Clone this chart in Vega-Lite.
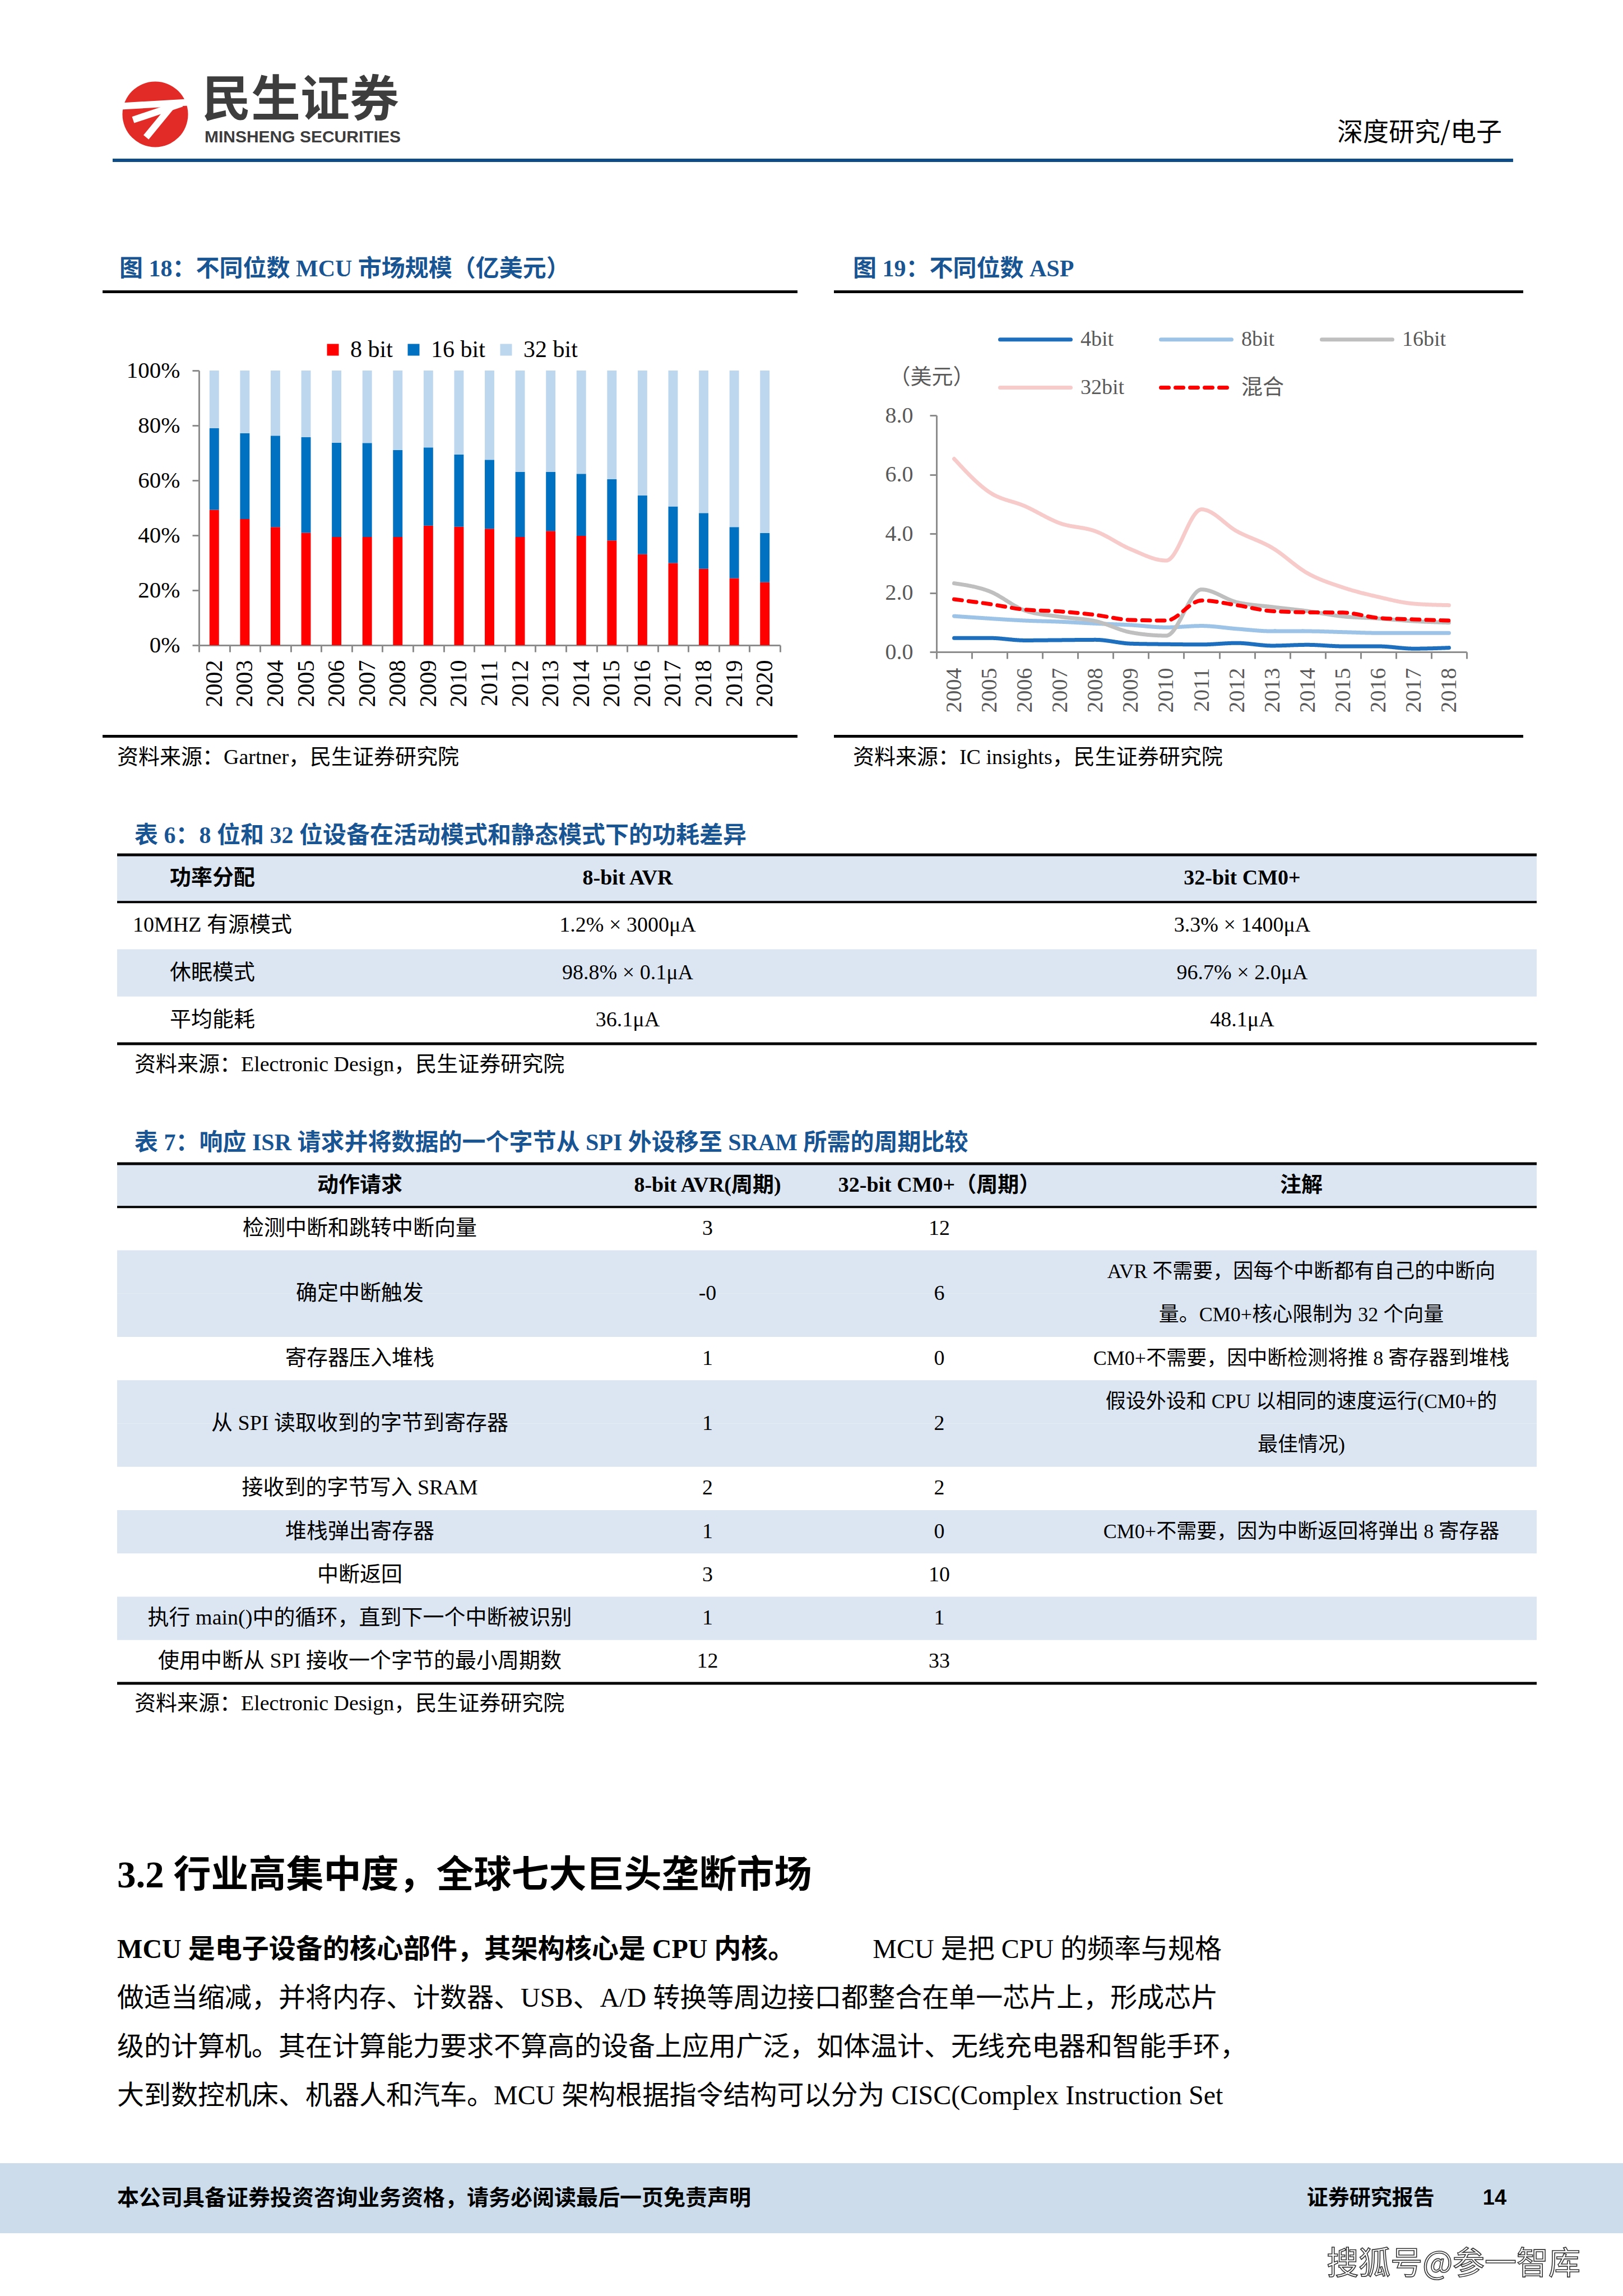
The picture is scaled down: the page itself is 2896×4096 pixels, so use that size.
{
"$schema": "https://vega.github.io/schema/vega-lite/v6.json",
"padding": 0,
"background": "#ffffff",
"autosize": {"type": "pad"},
"config": {
  "view": {"stroke": null},
  "concat": {"spacing": 0},
  "font": "Liberation Serif, Noto Sans CJK SC",
  "text": {"font": "Liberation Serif, Noto Sans CJK SC", "fontSize": 38, "color": "#000000"},
  "axis": {"grid": false, "labelFont": "Liberation Serif, Noto Sans CJK SC", "titleFont": "Liberation Serif, Noto Sans CJK SC"},
  "legend": {"labelFont": "Liberation Serif, Noto Sans CJK SC", "padding": 0}
},
"datasets": {
  "mcu": [
    {"year": "2002", "bits": 8, "share": 49.3}, {"year": "2002", "bits": 16, "share": 29.7}, {"year": "2002", "bits": 32, "share": 21.0},
    {"year": "2003", "bits": 8, "share": 45.9}, {"year": "2003", "bits": 16, "share": 31.3}, {"year": "2003", "bits": 32, "share": 22.8},
    {"year": "2004", "bits": 8, "share": 43.0}, {"year": "2004", "bits": 16, "share": 33.3}, {"year": "2004", "bits": 32, "share": 23.7},
    {"year": "2005", "bits": 8, "share": 40.9}, {"year": "2005", "bits": 16, "share": 34.8}, {"year": "2005", "bits": 32, "share": 24.3},
    {"year": "2006", "bits": 8, "share": 39.4}, {"year": "2006", "bits": 16, "share": 34.3}, {"year": "2006", "bits": 32, "share": 26.3},
    {"year": "2007", "bits": 8, "share": 39.4}, {"year": "2007", "bits": 16, "share": 34.2}, {"year": "2007", "bits": 32, "share": 26.4},
    {"year": "2008", "bits": 8, "share": 39.4}, {"year": "2008", "bits": 16, "share": 31.6}, {"year": "2008", "bits": 32, "share": 29.0},
    {"year": "2009", "bits": 8, "share": 43.5}, {"year": "2009", "bits": 16, "share": 28.5}, {"year": "2009", "bits": 32, "share": 28.0},
    {"year": "2010", "bits": 8, "share": 43.1}, {"year": "2010", "bits": 16, "share": 26.3}, {"year": "2010", "bits": 32, "share": 30.6},
    {"year": "2011", "bits": 8, "share": 42.4}, {"year": "2011", "bits": 16, "share": 25.1}, {"year": "2011", "bits": 32, "share": 32.5},
    {"year": "2012", "bits": 8, "share": 39.4}, {"year": "2012", "bits": 16, "share": 23.7}, {"year": "2012", "bits": 32, "share": 36.9},
    {"year": "2013", "bits": 8, "share": 41.6}, {"year": "2013", "bits": 16, "share": 21.5}, {"year": "2013", "bits": 32, "share": 36.9},
    {"year": "2014", "bits": 8, "share": 39.8}, {"year": "2014", "bits": 16, "share": 22.6}, {"year": "2014", "bits": 32, "share": 37.6},
    {"year": "2015", "bits": 8, "share": 38.1}, {"year": "2015", "bits": 16, "share": 22.3}, {"year": "2015", "bits": 32, "share": 39.6},
    {"year": "2016", "bits": 8, "share": 33.1}, {"year": "2016", "bits": 16, "share": 21.4}, {"year": "2016", "bits": 32, "share": 45.5},
    {"year": "2017", "bits": 8, "share": 29.9}, {"year": "2017", "bits": 16, "share": 20.6}, {"year": "2017", "bits": 32, "share": 49.5},
    {"year": "2018", "bits": 8, "share": 27.8}, {"year": "2018", "bits": 16, "share": 20.3}, {"year": "2018", "bits": 32, "share": 51.9},
    {"year": "2019", "bits": 8, "share": 24.4}, {"year": "2019", "bits": 16, "share": 18.6}, {"year": "2019", "bits": 32, "share": 57.0},
    {"year": "2020", "bits": 8, "share": 22.9}, {"year": "2020", "bits": 16, "share": 17.9}, {"year": "2020", "bits": 32, "share": 59.2}
  ],
  "asp": [
    {"year": "2004", "series": "4bit", "price": 0.47}, {"year": "2005", "series": "4bit", "price": 0.47}, {"year": "2006", "series": "4bit", "price": 0.39}, {"year": "2007", "series": "4bit", "price": 0.40}, {"year": "2008", "series": "4bit", "price": 0.41}, {"year": "2009", "series": "4bit", "price": 0.28}, {"year": "2010", "series": "4bit", "price": 0.26}, {"year": "2011", "series": "4bit", "price": 0.25}, {"year": "2012", "series": "4bit", "price": 0.30}, {"year": "2013", "series": "4bit", "price": 0.21}, {"year": "2014", "series": "4bit", "price": 0.24}, {"year": "2015", "series": "4bit", "price": 0.19}, {"year": "2016", "series": "4bit", "price": 0.19}, {"year": "2017", "series": "4bit", "price": 0.11}, {"year": "2018", "series": "4bit", "price": 0.14},
    {"year": "2004", "series": "8bit", "price": 1.21}, {"year": "2005", "series": "8bit", "price": 1.13}, {"year": "2006", "series": "8bit", "price": 1.06}, {"year": "2007", "series": "8bit", "price": 1.02}, {"year": "2008", "series": "8bit", "price": 0.96}, {"year": "2009", "series": "8bit", "price": 0.91}, {"year": "2010", "series": "8bit", "price": 0.83}, {"year": "2011", "series": "8bit", "price": 0.88}, {"year": "2012", "series": "8bit", "price": 0.78}, {"year": "2013", "series": "8bit", "price": 0.70}, {"year": "2014", "series": "8bit", "price": 0.70}, {"year": "2015", "series": "8bit", "price": 0.67}, {"year": "2016", "series": "8bit", "price": 0.64}, {"year": "2017", "series": "8bit", "price": 0.64}, {"year": "2018", "series": "8bit", "price": 0.64},
    {"year": "2004", "series": "16bit", "price": 2.32}, {"year": "2005", "series": "16bit", "price": 2.05}, {"year": "2006", "series": "16bit", "price": 1.40}, {"year": "2007", "series": "16bit", "price": 1.19}, {"year": "2008", "series": "16bit", "price": 1.04}, {"year": "2009", "series": "16bit", "price": 0.66}, {"year": "2010", "series": "16bit", "price": 0.55}, {"year": "2011", "series": "16bit", "price": 2.11}, {"year": "2012", "series": "16bit", "price": 1.68}, {"year": "2013", "series": "16bit", "price": 1.52}, {"year": "2014", "series": "16bit", "price": 1.38}, {"year": "2015", "series": "16bit", "price": 1.20}, {"year": "2016", "series": "16bit", "price": 1.13}, {"year": "2017", "series": "16bit", "price": 1.04}, {"year": "2018", "series": "16bit", "price": 0.99},
    {"year": "2004", "series": "32bit", "price": 6.53}, {"year": "2005", "series": "32bit", "price": 5.40}, {"year": "2006", "series": "32bit", "price": 4.93}, {"year": "2007", "series": "32bit", "price": 4.35}, {"year": "2008", "series": "32bit", "price": 4.08}, {"year": "2009", "series": "32bit", "price": 3.47}, {"year": "2010", "series": "32bit", "price": 3.09}, {"year": "2011", "series": "32bit", "price": 4.82}, {"year": "2012", "series": "32bit", "price": 4.08}, {"year": "2013", "series": "32bit", "price": 3.52}, {"year": "2014", "series": "32bit", "price": 2.66}, {"year": "2015", "series": "32bit", "price": 2.18}, {"year": "2016", "series": "32bit", "price": 1.86}, {"year": "2017", "series": "32bit", "price": 1.63}, {"year": "2018", "series": "32bit", "price": 1.58},
    {"year": "2004", "series": "混合", "price": 1.78}, {"year": "2005", "series": "混合", "price": 1.62}, {"year": "2006", "series": "混合", "price": 1.43}, {"year": "2007", "series": "混合", "price": 1.37}, {"year": "2008", "series": "混合", "price": 1.25}, {"year": "2009", "series": "混合", "price": 1.08}, {"year": "2010", "series": "混合", "price": 1.06}, {"year": "2011", "series": "混合", "price": 1.74}, {"year": "2012", "series": "混合", "price": 1.58}, {"year": "2013", "series": "混合", "price": 1.38}, {"year": "2014", "series": "混合", "price": 1.34}, {"year": "2015", "series": "混合", "price": 1.33}, {"year": "2016", "series": "混合", "price": 1.15}, {"year": "2017", "series": "混合", "price": 1.10}, {"year": "2018", "series": "混合", "price": 1.06}
  ],
  "t6rows": [{"row": "h"}, {"row": "r1"}, {"row": "r2"}, {"row": "r3"}],
  "t6": [
    {"row": "h", "col": 1, "text": "功率分配"}, {"row": "h", "col": 2, "text": "8-bit AVR"}, {"row": "h", "col": 3, "text": "32-bit CM0+"},
    {"row": "r1", "col": 1, "text": "10MHZ 有源模式"}, {"row": "r1", "col": 2, "text": "1.2% × 3000μA"}, {"row": "r1", "col": 3, "text": "3.3% × 1400μA"},
    {"row": "r2", "col": 1, "text": "休眠模式"}, {"row": "r2", "col": 2, "text": "98.8% × 0.1μA"}, {"row": "r2", "col": 3, "text": "96.7% × 2.0μA"},
    {"row": "r3", "col": 1, "text": "平均能耗"}, {"row": "r3", "col": 2, "text": "36.1μA"}, {"row": "r3", "col": 3, "text": "48.1μA"}
  ],
  "t7slots": [{"slot": "h"}, {"slot": "r1"}, {"slot": "r2a"}, {"slot": "r2b"}, {"slot": "r3"}, {"slot": "r4a"}, {"slot": "r4b"}, {"slot": "r5"}, {"slot": "r6"}, {"slot": "r7"}, {"slot": "r8"}, {"slot": "r9"}],
  "t7": [
    {"slot": "h", "col": 1, "span": 1, "text": "动作请求"}, {"slot": "h", "col": 2, "span": 1, "text": "8-bit AVR(周期)"}, {"slot": "h", "col": 3, "span": 1, "text": "32-bit CM0+（周期）"}, {"slot": "h", "col": 4, "span": 1, "text": "注解"},
    {"slot": "r1", "col": 1, "span": 1, "text": "检测中断和跳转中断向量"}, {"slot": "r1", "col": 2, "span": 1, "text": "3"}, {"slot": "r1", "col": 3, "span": 1, "text": "12"},
    {"slot": "r2a", "col": 1, "span": 2, "text": "确定中断触发"}, {"slot": "r2a", "col": 2, "span": 2, "text": "-0"}, {"slot": "r2a", "col": 3, "span": 2, "text": "6"},
    {"slot": "r2a", "col": 4, "span": 1, "text": "AVR 不需要，因每个中断都有自己的中断向"}, {"slot": "r2b", "col": 4, "span": 1, "text": "量。CM0+核心限制为 32 个向量"},
    {"slot": "r3", "col": 1, "span": 1, "text": "寄存器压入堆栈"}, {"slot": "r3", "col": 2, "span": 1, "text": "1"}, {"slot": "r3", "col": 3, "span": 1, "text": "0"}, {"slot": "r3", "col": 4, "span": 1, "text": "CM0+不需要，因中断检测将推 8 寄存器到堆栈"},
    {"slot": "r4a", "col": 1, "span": 2, "text": "从 SPI 读取收到的字节到寄存器"}, {"slot": "r4a", "col": 2, "span": 2, "text": "1"}, {"slot": "r4a", "col": 3, "span": 2, "text": "2"},
    {"slot": "r4a", "col": 4, "span": 1, "text": "假设外设和 CPU 以相同的速度运行(CM0+的"}, {"slot": "r4b", "col": 4, "span": 1, "text": "最佳情况)"},
    {"slot": "r5", "col": 1, "span": 1, "text": "接收到的字节写入 SRAM"}, {"slot": "r5", "col": 2, "span": 1, "text": "2"}, {"slot": "r5", "col": 3, "span": 1, "text": "2"},
    {"slot": "r6", "col": 1, "span": 1, "text": "堆栈弹出寄存器"}, {"slot": "r6", "col": 2, "span": 1, "text": "1"}, {"slot": "r6", "col": 3, "span": 1, "text": "0"}, {"slot": "r6", "col": 4, "span": 1, "text": "CM0+不需要，因为中断返回将弹出 8 寄存器"},
    {"slot": "r7", "col": 1, "span": 1, "text": "中断返回"}, {"slot": "r7", "col": 2, "span": 1, "text": "3"}, {"slot": "r7", "col": 3, "span": 1, "text": "10"},
    {"slot": "r8", "col": 1, "span": 1, "text": "执行 main()中的循环，直到下一个中断被识别"}, {"slot": "r8", "col": 2, "span": 1, "text": "1"}, {"slot": "r8", "col": 3, "span": 1, "text": "1"},
    {"slot": "r9", "col": 1, "span": 1, "text": "使用中断从 SPI 接收一个字节的最小周期数"}, {"slot": "r9", "col": 2, "span": 1, "text": "12"}, {"slot": "r9", "col": 3, "span": 1, "text": "33"}
  ],
  "para": [
    {"line": "l1", "part": "lead", "text": "　　MCU 是电子设备的核心部件，其架构核心是 CPU 内核。"},
    {"line": "l1", "part": "tail", "text": "MCU 是把 CPU 的频率与规格"},
    {"line": "l2", "part": "body", "text": "做适当缩减，并将内存、计数器、USB、A/D 转换等周边接口都整合在单一芯片上，形成芯片"},
    {"line": "l3", "part": "body", "text": "级的计算机。其在计算能力要求不算高的设备上应用广泛，如体温计、无线充电器和智能手环，"},
    {"line": "l4", "part": "body", "text": "大到数控机床、机器人和汽车。MCU 架构根据指令结构可以分为 CISC(Complex Instruction Set"}
  ]
},
"spacing": 0,
"vconcat": [
  {
    "width": 2896, "height": 295,
    "layer": [
      {"data": {"values": [{"k": "logo"}]}, "mark": {"type": "point", "filled": true, "color": "#E22A26", "size": 13700, "opacity": 1},
       "encoding": {"x": {"datum": 9.565, "type": "quantitative", "scale": {"domain": [0, 100]}, "axis": null}, "y": {"datum": 69.15, "type": "quantitative", "scale": {"domain": [0, 100], "reverse": true}, "axis": null}}},
      {"data": {"values": [{"k": "stripe1"}]}, "mark": {"type": "rule", "strokeWidth": 12, "color": "#ffffff"},
       "encoding": {"x": {"datum": 7.45, "type": "quantitative"}, "x2": {"datum": 11.6}, "y": {"datum": 64.2, "type": "quantitative"}, "y2": {"datum": 61.9}}},
      {"data": {"values": [{"k": "stripe2"}]}, "mark": {"type": "rule", "strokeWidth": 12, "color": "#ffffff"},
       "encoding": {"x": {"datum": 8.2, "type": "quantitative"}, "x2": {"datum": 11.2}, "y": {"datum": 72.5, "type": "quantitative"}, "y2": {"datum": 62.6}}},
      {"data": {"values": [{"k": "stripe3"}]}, "mark": {"type": "rule", "strokeWidth": 12, "color": "#ffffff"},
       "encoding": {"x": {"datum": 9.0, "type": "quantitative"}, "x2": {"datum": 10.65}, "y": {"datum": 83.0, "type": "quantitative"}, "y2": {"datum": 63.3}}},
      {"data": {"values": [{"t": "民生证券"}]}, "mark": {"type": "text", "align": "left", "font": "Noto Sans CJK SC", "fontSize": 88, "fontWeight": "bold", "color": "#3D3D3D"},
       "encoding": {"text": {"field": "t"}, "x": {"datum": 12.43, "type": "quantitative"}, "y": {"datum": 61.36, "type": "quantitative"}}},
      {"data": {"values": [{"t": "MINSHENG SECURITIES"}]}, "mark": {"type": "text", "align": "left", "font": "Liberation Sans Narrow, Liberation Sans", "fontSize": 30, "fontWeight": "bold", "color": "#3D3D3D"},
       "encoding": {"text": {"field": "t"}, "x": {"datum": 12.6, "type": "quantitative"}, "y": {"datum": 83.05, "type": "quantitative"}}},
      {"data": {"values": [{"t": "深度研究/电子"}]}, "mark": {"type": "text", "align": "right", "font": "Noto Sans CJK SC", "fontSize": 46, "color": "#000000"},
       "encoding": {"text": {"field": "t"}, "x": {"datum": 92.54, "type": "quantitative"}, "y": {"datum": 80.34, "type": "quantitative"}}},
      {"data": {"values": [{"k": "band"}]}, "mark": {"type": "rule", "strokeWidth": 6, "color": "#0E4C87"},
       "encoding": {"x": {"datum": 6.94, "type": "quantitative"}, "x2": {"datum": 93.23}, "y": {"datum": 96.95, "type": "quantitative"}}}
    ]
  },
  {
    "spacing": 0, "bounds": "flush",
    "resolve": {"scale": {"color": "independent", "strokeDash": "independent"}, "legend": {"color": "independent", "strokeDash": "independent"}},
    "hconcat": [
      {"width": 183, "height": 1085, "data": {"values": []}, "mark": "point"},
      {
        "width": 1240, "height": 1085,
        "resolve": {"scale": {"x": "independent", "y": "independent"}},
        "layer": [
          {
            "data": {"name": "mcu"},
            "mark": {"type": "bar", "width": {"band": 0.31}},
            "encoding": {
              "x": {"field": "year", "type": "ordinal", "scale": {"range": [172, 1209], "paddingInner": 0, "paddingOuter": 0},
                    "axis": {"title": null, "offset": -229, "labelAngle": -90, "labelFontSize": 42, "labelColor": "#000000", "tickBand": "extent", "tickSize": 12, "labelPadding": 14, "domainColor": "#8C8C8C", "tickColor": "#8C8C8C", "domainWidth": 3, "tickWidth": 3}},
              "y": {"field": "share", "type": "quantitative", "stack": "normalize", "scale": {"domain": [0, 1], "nice": false, "range": [856, 366]},
                    "axis": {"title": null, "offset": -172, "format": ".0%", "values": [0, 0.2, 0.4, 0.6, 0.8, 1], "labelFontSize": 41, "labelColor": "#000000", "tickSize": 12, "labelPadding": 22, "domainColor": "#8C8C8C", "tickColor": "#8C8C8C", "domainWidth": 3, "tickWidth": 3}},
              "color": {"field": "bits", "type": "nominal", "scale": {"domain": [8, 16, 32], "range": ["#FF0000", "#0070C0", "#BDD7EE"]},
                        "legend": {"title": null, "orient": "none", "legendX": 390, "legendY": 308, "direction": "horizontal", "gridAlign": "none", "symbolType": "square", "symbolSize": 441, "symbolStrokeWidth": 0, "labelFontSize": 42, "labelColor": "#000000", "labelOffset": 10, "columnPadding": 16, "labelExpr": "datum.label + ' bit'"}},
              "order": {"field": "bits", "type": "quantitative", "sort": "ascending"}
            }
          },
          {"data": {"values": [{"t": "图 18：不同位数 MCU 市场规模（亿美元）"}]},
           "mark": {"type": "text", "align": "left", "fontSize": 42, "fontWeight": "bold", "color": "#1A5593"},
           "encoding": {"text": {"field": "t"}, "x": {"datum": 0.0242, "type": "quantitative", "scale": {"domain": [0, 1]}, "axis": null}, "y": {"datum": 0.1705, "type": "quantitative", "scale": {"domain": [0, 1], "reverse": true}, "axis": null}}},
          {"data": {"values": [{}]}, "mark": {"type": "rule", "strokeWidth": 5, "color": "#000000"},
           "encoding": {"y": {"datum": 0.2078, "type": "quantitative", "scale": {"domain": [0, 1], "reverse": true}, "axis": null}}},
          {"data": {"values": [{}]}, "mark": {"type": "rule", "strokeWidth": 5, "color": "#000000"},
           "encoding": {"y": {"datum": 0.9387, "type": "quantitative", "scale": {"domain": [0, 1], "reverse": true}, "axis": null}}},
          {"data": {"values": [{"t": "资料来源：Gartner，民生证券研究院"}]},
           "mark": {"type": "text", "align": "left", "fontSize": 38},
           "encoding": {"text": {"field": "t"}, "x": {"datum": 0.021, "type": "quantitative", "scale": {"domain": [0, 1]}, "axis": null}, "y": {"datum": 0.9742, "type": "quantitative", "scale": {"domain": [0, 1], "reverse": true}, "axis": null}}}
        ]
      },
      {"width": 65, "height": 1085, "data": {"values": []}, "mark": "point"},
      {
        "width": 1230, "height": 1085,
        "resolve": {"scale": {"x": "independent", "y": "independent"}},
        "layer": [
          {
            "data": {"name": "asp"},
            "mark": {"type": "line", "strokeWidth": 7, "interpolate": "monotone", "strokeCap": "round"},
            "encoding": {
              "x": {"field": "year", "type": "ordinal", "bandPosition": 0.5, "scale": {"type": "band", "range": [183, 1129], "paddingInner": 0, "paddingOuter": 0},
                    "axis": {"title": null, "offset": -217, "labelAngle": -90, "labelFontSize": 40, "labelColor": "#595959", "tickBand": "extent", "tickSize": 12, "labelPadding": 16, "domainColor": "#8C8C8C", "tickColor": "#8C8C8C", "domainWidth": 3, "tickWidth": 3}},
              "y": {"field": "price", "type": "quantitative", "scale": {"domain": [0, 8], "nice": false, "range": [868, 446]},
                    "axis": {"title": "（美元）", "offset": -183, "titleAngle": 0, "titleX": -9, "titleY": 378, "titleAlign": "center", "titleBaseline": "middle", "titleFontSize": 38, "titleFontWeight": "normal", "titleColor": "#595959",
                             "values": [0, 2, 4, 6, 8], "format": ".1f", "labelFontSize": 40, "labelColor": "#595959", "tickSize": 12, "labelPadding": 30, "domainColor": "#8C8C8C", "tickColor": "#8C8C8C", "domainWidth": 3, "tickWidth": 3}},
              "color": {"field": "series", "type": "nominal", "scale": {"domain": ["4bit", "8bit", "16bit", "32bit", "混合"], "range": ["#1F6FBF", "#9DC3E6", "#BFBFBF", "#F8CBCB", "#FF0000"]},
                        "legend": {"title": null, "orient": "none", "legendX": 293, "legendY": 244, "direction": "horizontal", "columns": 3, "gridAlign": "all", "symbolType": "stroke", "symbolSize": 15876, "symbolStrokeWidth": 7, "labelFontSize": 38, "labelColor": "#595959", "labelOffset": 14, "columnPadding": 50, "rowPadding": 0, "labelLimit": 400,
                                   "encode": {"symbols": {"update": {"strokeCap": {"value": "round"}}}}}},
              "strokeDash": {"field": "series", "type": "nominal", "scale": {"domain": ["4bit", "8bit", "16bit", "32bit", "混合"], "range": [[1, 0], [1, 0], [1, 0], [1, 0], [14, 12]]},
                        "legend": {"title": null, "orient": "none", "legendX": 293, "legendY": 244, "direction": "horizontal", "columns": 3, "gridAlign": "all", "symbolType": "stroke", "symbolSize": 15876, "symbolStrokeWidth": 7, "labelFontSize": 38, "labelColor": "#595959", "labelOffset": 14, "columnPadding": 50, "rowPadding": 0, "labelLimit": 400,
                                   "encode": {"symbols": {"update": {"strokeCap": {"value": "round"}}}}}}
            }
          },
          {"data": {"values": [{"t": "图 19：不同位数 ASP"}]},
           "mark": {"type": "text", "align": "left", "fontSize": 42, "fontWeight": "bold", "color": "#1A5593"},
           "encoding": {"text": {"field": "t"}, "x": {"datum": 0.0276, "type": "quantitative", "scale": {"domain": [0, 1]}, "axis": null}, "y": {"datum": 0.1705, "type": "quantitative", "scale": {"domain": [0, 1], "reverse": true}, "axis": null}}},
          {"data": {"values": [{}]}, "mark": {"type": "rule", "strokeWidth": 5, "color": "#000000"},
           "encoding": {"y": {"datum": 0.2078, "type": "quantitative", "scale": {"domain": [0, 1], "reverse": true}, "axis": null}}},
          {"data": {"values": [{}]}, "mark": {"type": "rule", "strokeWidth": 5, "color": "#000000"},
           "encoding": {"y": {"datum": 0.9387, "type": "quantitative", "scale": {"domain": [0, 1], "reverse": true}, "axis": null}}},
          {"data": {"values": [{"t": "资料来源：IC insights，民生证券研究院"}]},
           "mark": {"type": "text", "align": "left", "fontSize": 38},
           "encoding": {"text": {"field": "t"}, "x": {"datum": 0.0276, "type": "quantitative", "scale": {"domain": [0, 1]}, "axis": null}, "y": {"datum": 0.9742, "type": "quantitative", "scale": {"domain": [0, 1], "reverse": true}, "axis": null}}}
        ]
      },
      {"width": 178, "height": 1085, "data": {"values": []}, "mark": "point"}
    ]
  },
  {
    "spacing": 0, "bounds": "flush",
    "hconcat": [
      {
        "width": 209, "height": 580,
        "layer": [
          {"data": {"values": [{"t": "表 6：8 位和 32 位设备在活动模式和静态模式下的功耗差异"}]},
           "mark": {"type": "text", "align": "left", "fontSize": 42, "fontWeight": "bold", "color": "#1A5593"},
           "encoding": {"text": {"field": "t"}, "x": {"datum": 1.148, "type": "quantitative", "scale": {"domain": [0, 1]}, "axis": null}, "y": {"datum": 0.1914, "type": "quantitative", "scale": {"domain": [0, 1], "reverse": true}, "axis": null}}},
          {"data": {"values": [{"t": "资料来源：Electronic Design，民生证券研究院"}]},
           "mark": {"type": "text", "align": "left", "fontSize": 38},
           "encoding": {"text": {"field": "t"}, "x": {"datum": 1.148, "type": "quantitative"}, "y": {"datum": 0.8966, "type": "quantitative"}}}
        ]
      },
      {
        "width": 340, "height": 580,
        "encoding": {"y": {"field": "row", "type": "nominal", "scale": {"domain": ["h", "r1", "r2", "r3"], "range": [145, 482], "paddingInner": 0, "paddingOuter": 0}, "axis": null}},
        "layer": [
          {"data": {"name": "t6rows"}, "transform": [{"filter": {"field": "row", "oneOf": ["h", "r2"]}}], "mark": {"type": "rect", "color": "#DCE6F2"},
           "encoding": {"x": {"datum": 0, "type": "quantitative", "scale": {"domain": [0, 1]}, "axis": null}, "x2": {"datum": 1}}},
          {"data": {"name": "t6"}, "transform": [{"filter": "datum.col == 1 && datum.row == 'h'"}], "mark": {"type": "text", "fontWeight": "bold", "fontSize": 38}, "encoding": {"text": {"field": "text"}}},
          {"data": {"name": "t6"}, "transform": [{"filter": "datum.col == 1 && datum.row != 'h'"}], "mark": {"type": "text", "fontSize": 38}, "encoding": {"text": {"field": "text"}}},
          {"data": {"values": [{}]}, "mark": {"type": "rule", "strokeWidth": 5, "color": "#000000"}, "encoding": {"y": {"datum": "h", "type": "nominal", "bandPosition": 0}}},
          {"data": {"values": [{}]}, "mark": {"type": "rule", "strokeWidth": 4, "color": "#000000"}, "encoding": {"y": {"datum": "r1", "type": "nominal", "bandPosition": 0}}},
          {"data": {"values": [{}]}, "mark": {"type": "rule", "strokeWidth": 5, "color": "#000000"}, "encoding": {"y": {"datum": "r3", "type": "nominal", "bandPosition": 1}}}
        ]
      },
      {
        "width": 1142, "height": 580,
        "encoding": {"y": {"field": "row", "type": "nominal", "scale": {"domain": ["h", "r1", "r2", "r3"], "range": [145, 482], "paddingInner": 0, "paddingOuter": 0}, "axis": null}},
        "layer": [
          {"data": {"name": "t6rows"}, "transform": [{"filter": {"field": "row", "oneOf": ["h", "r2"]}}], "mark": {"type": "rect", "color": "#DCE6F2"},
           "encoding": {"x": {"datum": 0, "type": "quantitative", "scale": {"domain": [0, 1]}, "axis": null}, "x2": {"datum": 1}}},
          {"data": {"name": "t6"}, "transform": [{"filter": "datum.col == 2 && datum.row == 'h'"}], "mark": {"type": "text", "fontWeight": "bold", "fontSize": 38}, "encoding": {"text": {"field": "text"}}},
          {"data": {"name": "t6"}, "transform": [{"filter": "datum.col == 2 && datum.row != 'h'"}], "mark": {"type": "text", "fontSize": 38}, "encoding": {"text": {"field": "text"}}},
          {"data": {"values": [{}]}, "mark": {"type": "rule", "strokeWidth": 5, "color": "#000000"}, "encoding": {"y": {"datum": "h", "type": "nominal", "bandPosition": 0}}},
          {"data": {"values": [{}]}, "mark": {"type": "rule", "strokeWidth": 4, "color": "#000000"}, "encoding": {"y": {"datum": "r1", "type": "nominal", "bandPosition": 0}}},
          {"data": {"values": [{}]}, "mark": {"type": "rule", "strokeWidth": 5, "color": "#000000"}, "encoding": {"y": {"datum": "r3", "type": "nominal", "bandPosition": 1}}}
        ]
      },
      {
        "width": 1051, "height": 580,
        "encoding": {"y": {"field": "row", "type": "nominal", "scale": {"domain": ["h", "r1", "r2", "r3"], "range": [145, 482], "paddingInner": 0, "paddingOuter": 0}, "axis": null}},
        "layer": [
          {"data": {"name": "t6rows"}, "transform": [{"filter": {"field": "row", "oneOf": ["h", "r2"]}}], "mark": {"type": "rect", "color": "#DCE6F2"},
           "encoding": {"x": {"datum": 0, "type": "quantitative", "scale": {"domain": [0, 1]}, "axis": null}, "x2": {"datum": 1}}},
          {"data": {"name": "t6"}, "transform": [{"filter": "datum.col == 3 && datum.row == 'h'"}], "mark": {"type": "text", "fontWeight": "bold", "fontSize": 38}, "encoding": {"text": {"field": "text"}}},
          {"data": {"name": "t6"}, "transform": [{"filter": "datum.col == 3 && datum.row != 'h'"}], "mark": {"type": "text", "fontSize": 38}, "encoding": {"text": {"field": "text"}}},
          {"data": {"values": [{}]}, "mark": {"type": "rule", "strokeWidth": 5, "color": "#000000"}, "encoding": {"y": {"datum": "h", "type": "nominal", "bandPosition": 0}}},
          {"data": {"values": [{}]}, "mark": {"type": "rule", "strokeWidth": 4, "color": "#000000"}, "encoding": {"y": {"datum": "r1", "type": "nominal", "bandPosition": 0}}},
          {"data": {"values": [{}]}, "mark": {"type": "rule", "strokeWidth": 5, "color": "#000000"}, "encoding": {"y": {"datum": "r3", "type": "nominal", "bandPosition": 1}}}
        ]
      },
      {"width": 154, "height": 580, "data": {"values": []}, "mark": "point"}
    ]
  },
  {
    "spacing": 0, "bounds": "flush",
    "hconcat": [
      {
        "width": 209, "height": 1103,
        "layer": [
          {"data": {"values": [{"t": "表 7：响应 ISR 请求并将数据的一个字节从 SPI 外设移至 SRAM 所需的周期比较"}]},
           "mark": {"type": "text", "align": "left", "fontSize": 42, "fontWeight": "bold", "color": "#1A5593"},
           "encoding": {"text": {"field": "t"}, "x": {"datum": 1.148, "type": "quantitative", "scale": {"domain": [0, 1]}, "axis": null}, "y": {"datum": 0.0716, "type": "quantitative", "scale": {"domain": [0, 1], "reverse": true}, "axis": null}}},
          {"data": {"values": [{"t": "资料来源：Electronic Design，民生证券研究院"}]},
           "mark": {"type": "text", "align": "left", "fontSize": 38},
           "encoding": {"text": {"field": "t"}, "x": {"datum": 1.148, "type": "quantitative"}, "y": {"datum": 0.9791, "type": "quantitative"}}}
        ]
      },
      {
        "width": 866, "height": 1103,
        "encoding": {"y": {"field": "slot", "type": "nominal", "scale": {"domain": ["h", "r1", "r2a", "r2b", "r3", "r4a", "r4b", "r5", "r6", "r7", "r8", "r9"], "range": [116, 1043], "paddingInner": 0, "paddingOuter": 0}, "axis": null}},
        "layer": [
          {"data": {"name": "t7slots"}, "transform": [{"filter": {"field": "slot", "oneOf": ["h", "r2a", "r2b", "r4a", "r4b", "r6", "r8"]}}], "mark": {"type": "rect", "color": "#DCE6F2"},
           "encoding": {"x": {"datum": 0, "type": "quantitative", "scale": {"domain": [0, 1]}, "axis": null}, "x2": {"datum": 1}}},
          {"data": {"name": "t7"}, "transform": [{"filter": "datum.col == 1 && datum.slot == 'h'"}], "mark": {"type": "text", "fontWeight": "bold", "fontSize": 38}, "encoding": {"text": {"field": "text"}}},
          {"data": {"name": "t7"}, "transform": [{"filter": "datum.col == 1 && datum.slot != 'h' && datum.span == 1"}], "mark": {"type": "text", "fontSize": 38}, "encoding": {"text": {"field": "text"}}},
          {"data": {"name": "t7"}, "transform": [{"filter": "datum.col == 1 && datum.span == 2"}], "mark": {"type": "text", "fontSize": 38}, "encoding": {"text": {"field": "text"}, "y": {"field": "slot", "type": "nominal", "bandPosition": 1}}},
          {"data": {"values": [{}]}, "mark": {"type": "rule", "strokeWidth": 5, "color": "#000000"}, "encoding": {"y": {"datum": "h", "type": "nominal", "bandPosition": 0}}},
          {"data": {"values": [{}]}, "mark": {"type": "rule", "strokeWidth": 4, "color": "#000000"}, "encoding": {"y": {"datum": "r1", "type": "nominal", "bandPosition": 0}}},
          {"data": {"values": [{}]}, "mark": {"type": "rule", "strokeWidth": 5, "color": "#000000"}, "encoding": {"y": {"datum": "r9", "type": "nominal", "bandPosition": 1}}}
        ]
      },
      {
        "width": 375, "height": 1103,
        "encoding": {"y": {"field": "slot", "type": "nominal", "scale": {"domain": ["h", "r1", "r2a", "r2b", "r3", "r4a", "r4b", "r5", "r6", "r7", "r8", "r9"], "range": [116, 1043], "paddingInner": 0, "paddingOuter": 0}, "axis": null}},
        "layer": [
          {"data": {"name": "t7slots"}, "transform": [{"filter": {"field": "slot", "oneOf": ["h", "r2a", "r2b", "r4a", "r4b", "r6", "r8"]}}], "mark": {"type": "rect", "color": "#DCE6F2"},
           "encoding": {"x": {"datum": 0, "type": "quantitative", "scale": {"domain": [0, 1]}, "axis": null}, "x2": {"datum": 1}}},
          {"data": {"name": "t7"}, "transform": [{"filter": "datum.col == 2 && datum.slot == 'h'"}], "mark": {"type": "text", "fontWeight": "bold", "fontSize": 38}, "encoding": {"text": {"field": "text"}}},
          {"data": {"name": "t7"}, "transform": [{"filter": "datum.col == 2 && datum.slot != 'h' && datum.span == 1"}], "mark": {"type": "text", "fontSize": 38}, "encoding": {"text": {"field": "text"}}},
          {"data": {"name": "t7"}, "transform": [{"filter": "datum.col == 2 && datum.span == 2"}], "mark": {"type": "text", "fontSize": 38}, "encoding": {"text": {"field": "text"}, "y": {"field": "slot", "type": "nominal", "bandPosition": 1}}},
          {"data": {"values": [{}]}, "mark": {"type": "rule", "strokeWidth": 5, "color": "#000000"}, "encoding": {"y": {"datum": "h", "type": "nominal", "bandPosition": 0}}},
          {"data": {"values": [{}]}, "mark": {"type": "rule", "strokeWidth": 4, "color": "#000000"}, "encoding": {"y": {"datum": "r1", "type": "nominal", "bandPosition": 0}}},
          {"data": {"values": [{}]}, "mark": {"type": "rule", "strokeWidth": 5, "color": "#000000"}, "encoding": {"y": {"datum": "r9", "type": "nominal", "bandPosition": 1}}}
        ]
      },
      {
        "width": 452, "height": 1103,
        "encoding": {"y": {"field": "slot", "type": "nominal", "scale": {"domain": ["h", "r1", "r2a", "r2b", "r3", "r4a", "r4b", "r5", "r6", "r7", "r8", "r9"], "range": [116, 1043], "paddingInner": 0, "paddingOuter": 0}, "axis": null}},
        "layer": [
          {"data": {"name": "t7slots"}, "transform": [{"filter": {"field": "slot", "oneOf": ["h", "r2a", "r2b", "r4a", "r4b", "r6", "r8"]}}], "mark": {"type": "rect", "color": "#DCE6F2"},
           "encoding": {"x": {"datum": 0, "type": "quantitative", "scale": {"domain": [0, 1]}, "axis": null}, "x2": {"datum": 1}}},
          {"data": {"name": "t7"}, "transform": [{"filter": "datum.col == 3 && datum.slot == 'h'"}], "mark": {"type": "text", "fontWeight": "bold", "fontSize": 38}, "encoding": {"text": {"field": "text"}}},
          {"data": {"name": "t7"}, "transform": [{"filter": "datum.col == 3 && datum.slot != 'h' && datum.span == 1"}], "mark": {"type": "text", "fontSize": 38}, "encoding": {"text": {"field": "text"}}},
          {"data": {"name": "t7"}, "transform": [{"filter": "datum.col == 3 && datum.span == 2"}], "mark": {"type": "text", "fontSize": 38}, "encoding": {"text": {"field": "text"}, "y": {"field": "slot", "type": "nominal", "bandPosition": 1}}},
          {"data": {"values": [{}]}, "mark": {"type": "rule", "strokeWidth": 5, "color": "#000000"}, "encoding": {"y": {"datum": "h", "type": "nominal", "bandPosition": 0}}},
          {"data": {"values": [{}]}, "mark": {"type": "rule", "strokeWidth": 4, "color": "#000000"}, "encoding": {"y": {"datum": "r1", "type": "nominal", "bandPosition": 0}}},
          {"data": {"values": [{}]}, "mark": {"type": "rule", "strokeWidth": 5, "color": "#000000"}, "encoding": {"y": {"datum": "r9", "type": "nominal", "bandPosition": 1}}}
        ]
      },
      {
        "width": 840, "height": 1103,
        "encoding": {"y": {"field": "slot", "type": "nominal", "scale": {"domain": ["h", "r1", "r2a", "r2b", "r3", "r4a", "r4b", "r5", "r6", "r7", "r8", "r9"], "range": [116, 1043], "paddingInner": 0, "paddingOuter": 0}, "axis": null}},
        "layer": [
          {"data": {"name": "t7slots"}, "transform": [{"filter": {"field": "slot", "oneOf": ["h", "r2a", "r2b", "r4a", "r4b", "r6", "r8"]}}], "mark": {"type": "rect", "color": "#DCE6F2"},
           "encoding": {"x": {"datum": 0, "type": "quantitative", "scale": {"domain": [0, 1]}, "axis": null}, "x2": {"datum": 1}}},
          {"data": {"name": "t7"}, "transform": [{"filter": "datum.col == 4 && datum.slot == 'h'"}], "mark": {"type": "text", "fontWeight": "bold", "fontSize": 38}, "encoding": {"text": {"field": "text"}}},
          {"data": {"name": "t7"}, "transform": [{"filter": "datum.col == 4 && datum.slot != 'h' && datum.span == 1"}], "mark": {"type": "text", "fontSize": 36}, "encoding": {"text": {"field": "text"}}},
          {"data": {"values": [{}]}, "mark": {"type": "rule", "strokeWidth": 5, "color": "#000000"}, "encoding": {"y": {"datum": "h", "type": "nominal", "bandPosition": 0}}},
          {"data": {"values": [{}]}, "mark": {"type": "rule", "strokeWidth": 4, "color": "#000000"}, "encoding": {"y": {"datum": "r1", "type": "nominal", "bandPosition": 0}}},
          {"data": {"values": [{}]}, "mark": {"type": "rule", "strokeWidth": 5, "color": "#000000"}, "encoding": {"y": {"datum": "r9", "type": "nominal", "bandPosition": 1}}}
        ]
      },
      {"width": 154, "height": 1103, "data": {"values": []}, "mark": "point"}
    ]
  },
  {
    "width": 2896, "height": 796,
    "resolve": {"scale": {"y": "independent"}},
    "layer": [
      {"data": {"values": [{"t": "3.2  行业高集中度，全球七大巨头垄断市场"}]},
       "mark": {"type": "text", "align": "left", "fontSize": 67, "fontWeight": "bold"},
       "encoding": {"text": {"field": "t"}, "x": {"datum": 0.0722, "type": "quantitative", "scale": {"domain": [0, 1]}, "axis": null}, "y": {"datum": 0.3568, "type": "quantitative", "scale": {"domain": [0, 1], "reverse": true}, "axis": null}}},
      {
        "data": {"name": "para"},
        "encoding": {"y": {"field": "line", "type": "nominal", "scale": {"domain": ["l1", "l2", "l3", "l4"], "range": [372, 720], "paddingInner": 0, "paddingOuter": 0}, "axis": null}, "text": {"field": "text"}},
        "layer": [
          {"transform": [{"filter": "datum.part == 'lead'"}], "mark": {"type": "text", "align": "left", "fontSize": 48, "fontWeight": "bold"},
           "encoding": {"x": {"datum": 0.0722, "type": "quantitative"}}},
          {"transform": [{"filter": "datum.part == 'tail'"}], "mark": {"type": "text", "align": "right", "fontSize": 48},
           "encoding": {"x": {"datum": 0.7528, "type": "quantitative"}}},
          {"transform": [{"filter": "datum.part == 'body'"}], "mark": {"type": "text", "align": "left", "fontSize": 48},
           "encoding": {"x": {"datum": 0.0722, "type": "quantitative"}}}
        ]
      }
    ]
  },
  {
    "width": 2896, "height": 125,
    "view": {"fill": "#CCDCEA", "stroke": null},
    "layer": [
      {"data": {"values": [{"t": "本公司具备证券投资咨询业务资格，请务必阅读最后一页免责声明"}]}, "mark": {"type": "text", "align": "left", "font": "Noto Sans CJK SC", "fontWeight": "bold", "fontSize": 39},
       "encoding": {"text": {"field": "t"}, "x": {"datum": 7.22, "type": "quantitative", "scale": {"domain": [0, 100]}, "axis": null}}},
      {"data": {"values": [{"t": "证券研究报告"}]}, "mark": {"type": "text", "align": "left", "font": "Noto Sans CJK SC", "fontWeight": "bold", "fontSize": 38},
       "encoding": {"text": {"field": "t"}, "x": {"datum": 80.52, "type": "quantitative"}}},
      {"data": {"values": [{"t": "14"}]}, "mark": {"type": "text", "align": "center", "font": "Liberation Sans", "fontWeight": "bold", "fontSize": 38},
       "encoding": {"text": {"field": "t"}, "x": {"datum": 92.09, "type": "quantitative"}}}
    ]
  },
  {
    "width": 2896, "height": 112,
    "data": {"values": [{"t": "搜狐号@参一智库"}]},
    "mark": {"type": "text", "align": "right", "font": "Noto Sans CJK SC", "fontSize": 57, "fill": "#ffffff", "stroke": "#333333", "strokeWidth": 1.6},
    "encoding": {"text": {"field": "t"}, "x": {"datum": 97.38, "type": "quantitative", "scale": {"domain": [0, 100]}, "axis": null}}
  }
]
}
